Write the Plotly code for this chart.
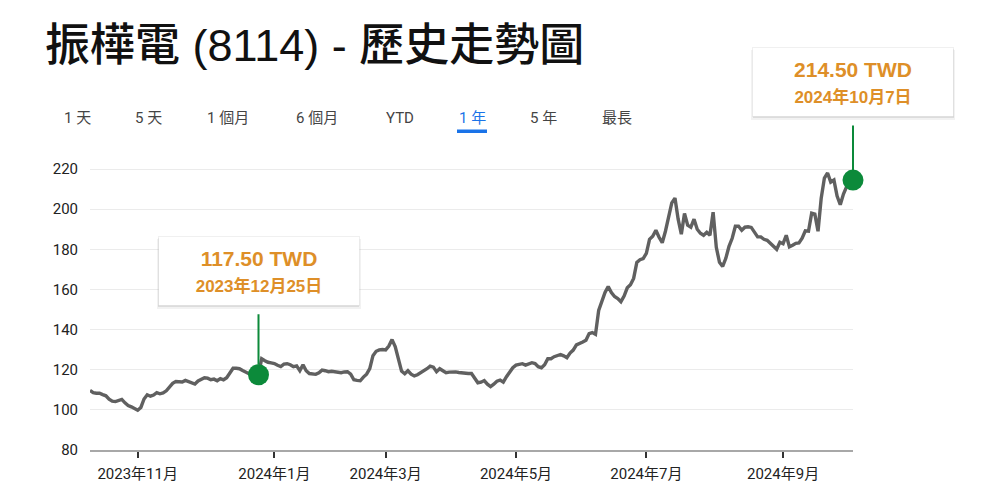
import pandas as pd
import plotly.graph_objects as go

# ---------------- data ----------------
title_text = "振樺電 (8114) - 歷史走勢圖"
range_tabs = ["1 天", "5 天", "1 個月", "6 個月", "YTD", "1 年", "5 年", "最長"]
active_tab = "1 年"
currency = "TWD"

start_date = "2023-10-11"
end_date = "2024-10-07"
market_holidays = [
    "2024-01-01", "2024-02-06", "2024-02-07", "2024-02-08", "2024-02-09",
    "2024-02-12", "2024-02-13", "2024-02-14", "2024-02-28", "2024-04-04",
    "2024-04-05", "2024-05-01", "2024-06-10", "2024-07-24", "2024-07-25",
    "2024-09-17", "2024-10-02", "2024-10-03",
]

# closing prices, one per trading day
prices_oct23 = [109.7, 108.6, 108.3, 108.3, 107.6, 107.0, 105.3, 104.3, 104.1, 104.5,
                105.2, 103.5, 102.2, 101.5, 100.5]
prices_nov23 = [99.8, 101.2, 105.4, 107.5, 106.8, 107.4, 108.6, 108.0, 108.4, 109.5,
                111.3, 113.2, 114.1, 114.2, 113.9, 114.7, 114.1, 113.3, 112.9, 114.4,
                115.2, 116.0]
prices_dec23 = [115.8, 115.0, 115.3, 114.5, 115.6, 115.0, 116.0, 118.5, 120.7, 120.7,
                120.5, 119.6, 118.6, 118.0, 117.6, 118.5, 117.5, 125.5, 124.5, 123.7,
                123.4]
prices_jan24 = [123.1, 122.2, 121.6, 122.8, 123.0, 122.5, 121.5, 121.9, 119.5, 122.5,
                119.5, 118.1, 117.7, 117.7, 118.5, 119.8, 119.5, 119.0, 119.2, 119.0,
                118.9, 118.5]
prices_feb24 = [118.9, 119.0, 117.8, 115.0, 114.7, 114.5, 116.3, 117.8, 120.5, 127.0,
                129.2, 129.9, 130.1]
prices_mar24 = [129.9, 131.8, 135.0, 131.5, 126.0, 119.3, 118.0, 119.5, 117.8, 116.9,
                117.5, 118.5, 119.1, 120.5, 121.8, 121.3, 119.0, 120.5, 119.5, 118.5,
                118.8]
prices_apr24 = [118.9, 118.9, 118.6, 118.3, 118.2, 118.1, 118.1, 116.0, 113.5, 113.8,
                114.6, 112.8, 111.6, 112.8, 114.3, 114.8, 113.8, 116.5, 118.5, 121.0]
prices_may24 = [122.3, 122.8, 123.0, 122.3, 122.7, 123.5, 123.1, 121.5, 121.0, 122.5,
                125.5, 125.5, 126.5, 127.0, 127.6, 126.9, 126.0, 128.3, 129.8, 132.4,
                133.0, 133.8]
prices_jun24 = [134.7, 138.0, 138.5, 137.6, 149.5, 154.0, 158.5, 161.5, 158.5, 156.5,
                155.5, 153.9, 156.7, 160.8, 162.3, 165.5, 173.5, 174.8, 175.4]
prices_jul24 = [178.0, 185.0, 186.5, 189.5, 186.0, 183.3, 189.0, 195.5, 203.1, 205.5,
                195.0, 187.5, 197.8, 192.0, 191.0, 195.0, 190.0, 188.0, 187.0, 188.5,
                187.0]
prices_aug24 = [198.5, 181.0, 173.5, 171.5, 175.5, 181.5, 185.5, 191.5, 191.5, 189.5,
                191.0, 191.2, 190.9, 188.5, 186.2, 186.2, 185.0, 184.5, 182.8, 181.3,
                180.0, 183.5]
prices_sep24 = [182.8, 187.0, 181.2, 182.0, 183.0, 183.2, 185.5, 189.2, 189.0, 198.0,
                197.5, 189.0, 205.5, 215.5, 218.0, 213.5, 214.5, 206.5, 202.2, 207.5]
prices_oct24 = [211.2, 213.0, 214.5]

y_ticks = [80, 100, 120, 140, 160, 180, 200, 220]
x_tick_months = ["2023-11", "2024-01", "2024-03", "2024-05", "2024-07", "2024-09"]
x_tick_labels = ["2023年11月", "2024年1月", "2024年3月", "2024年5月", "2024年7月", "2024年9月"]

marked_dates = ["2023-12-25", "2024-10-07"]

# ---------------- derived ----------------
prices = (prices_oct23 + prices_nov23 + prices_dec23 + prices_jan24 + prices_feb24 +
          prices_mar24 + prices_apr24 + prices_may24 + prices_jun24 + prices_jul24 +
          prices_aug24 + prices_sep24 + prices_oct24)
dates = [d.strftime("%Y-%m-%d") for d in pd.bdate_range(start_date, end_date)
         if d.strftime("%Y-%m-%d") not in market_holidays]
assert len(dates) == len(prices), (len(dates), len(prices))

tick_vals = [next(d for d in dates if d.startswith(m)) for m in x_tick_months]
marked_values = [prices[dates.index(d)] for d in marked_dates]

# ---------------- styling ----------------
PAGE_OFF = 8                      # default page margin around the figure
W, H = 1000 - PAGE_OFF, 500 - PAGE_OFF
ML, MR, MT, MB = 90 - PAGE_OFF, 147, 165 - PAGE_OFF, 50
LINE_GRAY = "#606060"
GREEN = "#0c8a3a"
ORANGE = "#de8f28"
BLUE = "#1a73e8"
CJK = "Noto Sans CJK TC"
LATIN = "Liberation Sans"


def px_x(px):
    return (px - PAGE_OFF - ML) / (W - ML - MR)


def px_y(py):
    return (H - MB - (py - PAGE_OFF)) / (H - MT - MB)


fig = go.Figure()
fig.add_trace(go.Scatter(
    x=dates, y=prices, mode="lines",
    line=dict(color=LINE_GRAY, width=3.4, shape="linear"),
    hoverinfo="skip", showlegend=False,
))
fig.add_trace(go.Scatter(
    x=marked_dates, y=marked_values, mode="markers",
    marker=dict(size=21, color=GREEN, line=dict(width=0)),
    cliponaxis=False, hoverinfo="skip", showlegend=False,
))

annotations = []
callout_offsets = [104, 98]   # box centre distance above the marker (px)
for d, v, off in zip(marked_dates, marked_values, callout_offsets):
    ts = pd.Timestamp(d)
    date_label = f"{ts.year}年{ts.month}月{ts.day}日"
    # soft shadow layers
    for extra, drop, alpha in [(4, 3.0, 0.05), (1, 1.5, 0.09)]:
        annotations.append(dict(
            x=d, y=v, xref="x", yref="y", text=" ", showarrow=False,
            yshift=off - drop, width=200 + extra, height=68 + extra / 2,
            bgcolor=f"rgba(0,0,0,{alpha})", borderpad=0, borderwidth=0,
        ))
    annotations.append(dict(
        x=d, y=v, xref="x", yref="y",
        text=(f"<span style='font-size:21px'><b>{v:.2f} {currency}</b></span><br>"
              f"<span style='font-size:17px'><b>{date_label}</b></span>"),
        font=dict(family=f"{LATIN}, {CJK}", size=20, color=ORANGE),
        showarrow=True, ax=0, ay=-off, axref="pixel", ayref="pixel",
        arrowhead=0, arrowwidth=2, arrowcolor=GREEN, standoff=10, startstandoff=9,
        bgcolor="white", bordercolor="rgba(0,0,0,0.06)", borderwidth=1, borderpad=0,
        width=200, height=68, align="center", valign="middle",
    ))

tab_centers = [77.6, 148.6, 228, 317, 400, 472, 543.5, 617]
for label, cx in zip(range_tabs, tab_centers):
    annotations.append(dict(
        x=px_x(cx), y=px_y(118), xref="paper", yref="paper", text=label,
        showarrow=False, xanchor="center", yanchor="middle",
        font=dict(family=f"Roboto, {CJK}", size=15,
                  color=BLUE if label == active_tab else "#444444"),
    ))

active_cx = tab_centers[range_tabs.index(active_tab)]
shapes = [dict(
    type="rect", xref="paper", yref="paper",
    x0=px_x(active_cx - 15), x1=px_x(active_cx + 15),
    y0=px_y(133), y1=px_y(129.5),
    fillcolor=BLUE, line=dict(width=0), layer="above",
)]

fig.update_layout(
    width=W, height=H,
    margin=dict(l=ML, r=MR, t=MT, b=MB, pad=0),
    paper_bgcolor="white", plot_bgcolor="white",
    title=dict(
        text=title_text, xref="container", yref="container",
        x=(45 - PAGE_OFF) / W, xanchor="left", y=1 - (45 - PAGE_OFF) / H, yanchor="middle",
        font=dict(family=f"{LATIN}, {CJK}", size=45, color="#111111", weight=500),
    ),
    annotations=annotations,
    shapes=shapes,
    showlegend=False,
)
fig.update_xaxes(
    type="date",
    range=[dates[0], dates[-1]],
    rangebreaks=[dict(bounds=["sat", "mon"]), dict(values=market_holidays)],
    tickmode="array", tickvals=tick_vals, ticktext=x_tick_labels,
    ticks="outside", ticklen=6, tickwidth=2, tickcolor="#333333",
    showline=True, linecolor="#a8a8a8", linewidth=1.5,
    showgrid=False, zeroline=False,
    tickfont=dict(family=f"Roboto, {CJK}", size=15, color="#222222"),
    ticklabelstandoff=3,
)
fig.update_yaxes(
    range=[80, 222],
    tickmode="array", tickvals=y_ticks,
    showgrid=True, gridcolor="#ebebeb", gridwidth=1,
    zeroline=False, showline=False, ticks="",
    tickfont=dict(family=f"Roboto, {CJK}", size=15, color="#222222"),
    ticklabelstandoff=11,
)

fig.write_html("out.html")
